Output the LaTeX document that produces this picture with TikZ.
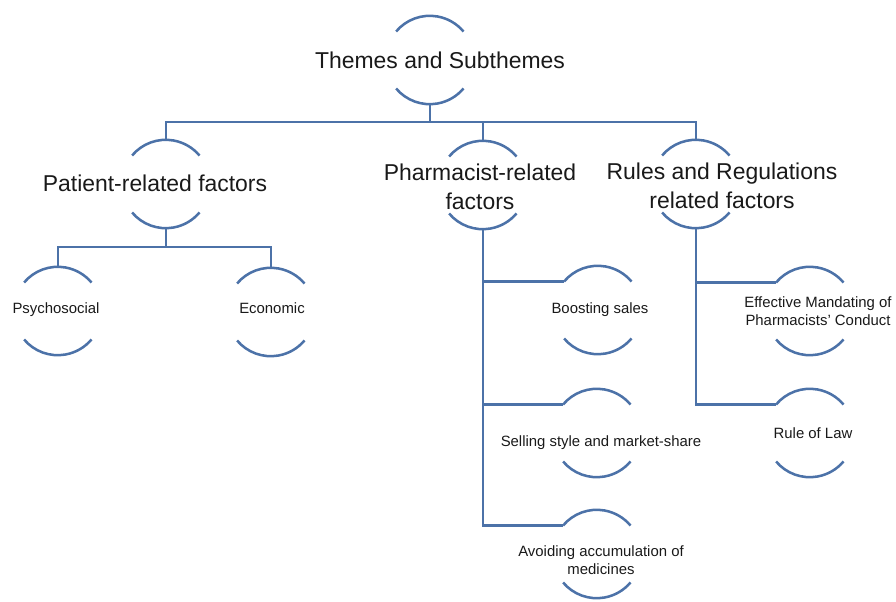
\documentclass[tikz,border=0pt]{standalone}
\usepackage{fontspec}
\setmainfont{Liberation Sans}
\definecolor{linkblue}{RGB}{76,114,168}
\begin{document}
\begin{tikzpicture}[x = 0.025cm, y = 0.025cm,
		rnode/.style = {shape = circle,
		                minimum size = 2.2cm,
		                inner sep = 0pt},
		bnode/.style = {align = center,
		                text = black!90,
		                font = \fontsize{16.3}{20.6}\selectfont},
		snode/.style = {align = center,
		                text = black!90,
		                font = \fontsize{10.6}{12.6}\selectfont},
		link/.style = {draw = linkblue, line width = 1.8pt}]
		\useasboundingbox (0,0) rectangle (896,-602);
		% rings
		\node[rnode] (top) at (430,-60) {};
		\node[rnode] (pat) at (166,-184) {};
		\node[rnode] (pha) at (483,-185) {};
		\node[rnode] (rul) at (696,-184) {};
		\node[rnode] (psy) at (58,-311) {};
		\node[rnode] (eco) at (271,-312) {};
		\node[rnode] (boo) at (598,-310) {};
		\node[rnode] (sel) at (597,-433) {};
		\node[rnode] (avo) at (597,-554) {};
		\node[rnode] (eff) at (810,-311) {};
		\node[rnode] (law) at (810,-433) {};
		% texts
		\node[bnode] (top-t) at (440,-60) {Themes and Subthemes};
		\node[bnode] (pat-t) at (155,-183) {Patient-related factors};
		\node[bnode] (pha-t) at (480,-187) {Pharmacist-related\\factors};
		\node[bnode] (rul-t) at (722,-186) {Rules and Regulations\\related factors};
		\node[snode] (psy-t) at (56,-310) {Psychosocial};
		\node[snode] (eco-t) at (272,-308) {Economic};
		\node[snode] (boo-t) at (600,-310) {Boosting sales};
		\node[snode] (sel-t) at (601,-443) {Selling style and market-share};
		\node[snode] (avo-t) at (601,-560) {Avoiding accumulation of\\medicines};
		\node[snode] (eff-t) at (818,-311) {Effective Mandating of\\Pharmacists' Conduct};
		\node[snode] (law-t) at (813,-433) {Rule of Law};
		\foreach \n in {top,pat,pha,rul,psy,eco,boo,sel,avo,eff,law} {
			\draw[link] (\n.140) arc[start angle = 140, end angle = 40, radius = 1.1cm];
			\draw[link] (\n.220) arc[start angle = 220, end angle = 320, radius = 1.1cm];
		}
		% connectors
		\coordinate (bus) at (0,-122);
		\coordinate (pbus) at (0,-247);
		\draw[link] (top.270) -- (top.270 |- bus);
		\draw[link] (pat.90) -- (pat.90 |- bus) -- (rul.90 |- bus) -- (rul.90);
		\draw[link] (pha.90) -- (pha.90 |- bus);
		\draw[link] (pat.270) -- (pat.270 |- pbus);
		\draw[link] (psy.90) -- (psy.90 |- pbus) -- (eco.90 |- pbus) -- (eco.90);
		\draw[link] (pha.270) |- (avo.140);
		\draw[link] (pha.270 |- boo.140) -- (boo.140);
		\draw[link] (pha.270 |- sel.140) -- (sel.140);
		\draw[link] (rul.270) |- (law.140);
		\draw[link] (rul.270 |- eff.140) -- (eff.140);
	\end{tikzpicture}
\end{document}
